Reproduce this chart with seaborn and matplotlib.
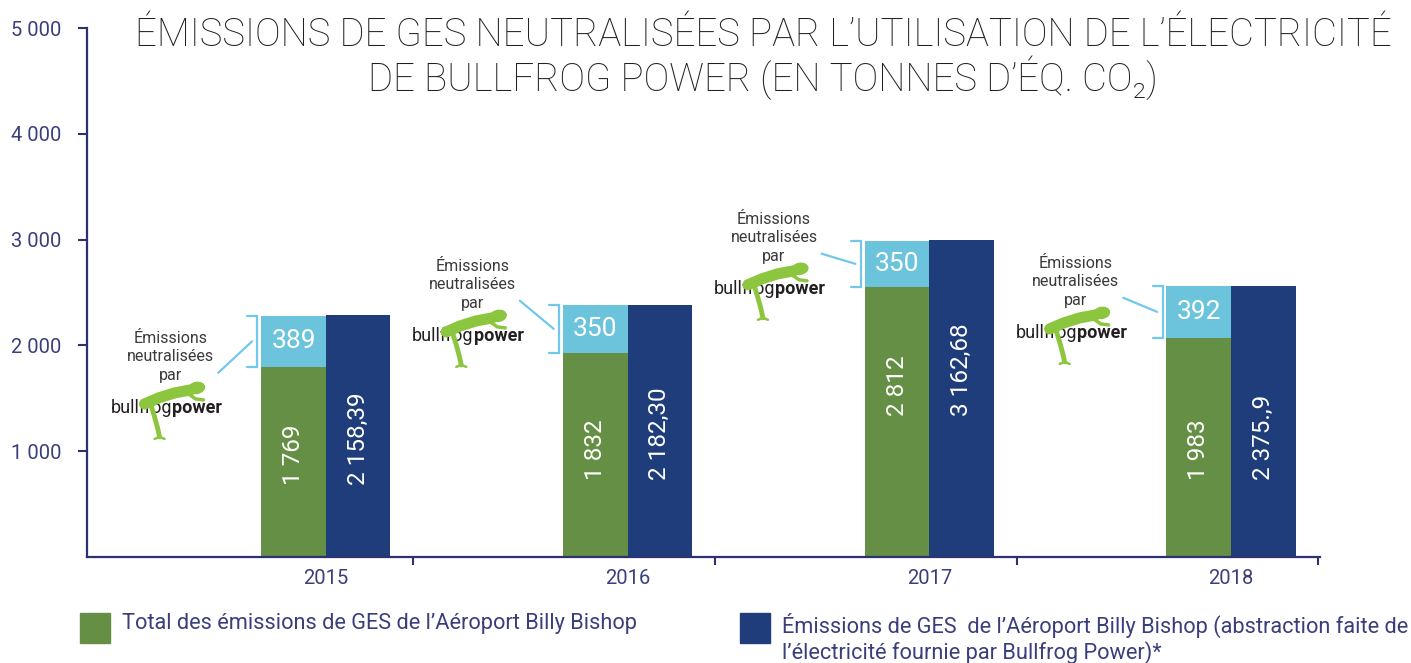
import numpy as np
import pandas as pd
import matplotlib
matplotlib.use("Agg")
import matplotlib.pyplot as plt
import seaborn as sns
from matplotlib.lines import Line2D
from matplotlib.patches import Rectangle, Ellipse
from matplotlib.transforms import IdentityTransform

# ---------------- data ----------------
years = ["2015", "2016", "2017", "2018"]
green_vals = [1797, 1929, 2553, 2071]      # bar heights as drawn
offset_vals = [482, 454, 435, 492]
dark_vals = [2288, 2383, 2998, 2563]
green_labels = ["1 769", "1 832", "2 812", "1 983"]
offset_labels = ["389", "350", "350", "392"]
dark_labels = ["2 158,39", "2 182,30", "3 162,68", "2 375.,9"]
label_base = [680, 730, 1335, 730]
note_y = [1891, 2572, 3017, 2600]
y_ticks = [1000, 2000, 3000, 4000, 5000]
y_tick_labels = ["1 000", "2 000", "3 000", "4 000", "5 000"]
series_names = ["Total des émissions de GES de l’Aéroport Billy Bishop",
                "Émissions de GES  de l’Aéroport Billy Bishop (abstraction faite de",
                "l’électricité fournie par Bullfrog Power)*"]
title_lines = ["ÉMISSIONS DE GES NEUTRALISÉES PAR L’UTILISATION DE L’ÉLECTRICITÉ",
               "DE BULLFROG POWER (EN TONNES D’ÉQ. CO₂)"]

GREEN = "#658f45"
LIGHT = "#6cc4dc"
DARK = "#1f3d7a"
NAVY = "#2e3170"
TICKC = "#3a3f7c"
BRACKET = "#72c7ec"
FROG = "#8cc63e"
NOTE = "#3a3a3a"

sns.set_theme(style="white")
plt.rcParams["font.family"] = ["Roboto", "DejaVu Sans"]

W, H = 1411, 663
fig = plt.figure(figsize=(W / 100, H / 100), dpi=100)
ax = fig.add_axes([87 / W, 1 - 557 / H, (1320 - 87) / W, (557 - 28) / H])

BW = 0.214
df = pd.DataFrame({
    "year": years * 2,
    "series": ["green"] * 4 + ["dark"] * 4,
    "value": green_vals + dark_vals,
})
sns.barplot(data=df, x="year", y="value", hue="series", order=years,
            hue_order=["green", "dark"], palette=[GREEN, DARK], width=2 * BW,
            gap=0, dodge=True, saturation=1, errorbar=None, legend=False,
            linewidth=0, ax=ax)
pos = np.arange(len(years))
ax.bar(pos - BW / 2, offset_vals, bottom=green_vals, width=BW, color=LIGHT,
       linewidth=0)

ax.set_xlim(-0.792, 3.295)
ax.set_ylim(0, 5000)
ax.set_xlabel("")
ax.set_ylabel("")
for s in ["top", "right"]:
    ax.spines[s].set_visible(False)
for s in ["left", "bottom"]:
    ax.spines[s].set_color(NAVY)
    ax.spines[s].set_linewidth(1.6)

ax.set_xticks(pos + 0.29, [""] * 4)
ax.set_xticks(pos, years, minor=True)
ax.tick_params(axis="x", which="major", length=6, width=1.5, color=NAVY,
               direction="out", bottom=True)
ax.tick_params(axis="x", which="minor", length=0, pad=9, labelsize=14.5,
               labelcolor=TICKC, bottom=True)
ax.set_yticks(y_ticks, y_tick_labels)
ax.tick_params(axis="y", length=6.5, width=1.5, color=NAVY, direction="out",
               pad=12, labelsize=14.5, labelcolor=TICKC, left=True)

# value labels
for j in range(len(years)):
    ax.text(j - BW / 2, green_vals[j] + offset_vals[j] / 2, offset_labels[j],
            ha="center", va="center", color="white", fontsize=19)
    ax.text(j - BW / 2, label_base[j], green_labels[j], rotation=90,
            ha="center", va="bottom", color="white", fontsize=17.5)
    ax.text(j + BW / 2, label_base[j], dark_labels[j], rotation=90,
            ha="center", va="bottom", color="white", fontsize=17.5)

# brackets, connectors, notes and logos
fig.canvas.draw()
for j in range(len(years)):
    gtop = green_vals[j]
    ltop = green_vals[j] + offset_vals[j]
    xv = j - BW - 0.013
    ax.plot([xv - 0.033, xv, xv, xv - 0.033], [ltop, ltop, gtop, gtop],
            color=BRACKET, lw=1.6, clip_on=False, solid_joinstyle="miter")
    ax.plot([j - 0.245, j - 0.357], [(gtop + ltop) / 2, note_y[j] - 150],
            color=BRACKET, lw=1.6, clip_on=False)
    xn = j - 0.515
    ax.text(xn, note_y[j], "Émissions\nneutralisées\npar", ha="center",
            va="center", linespacing=1.3, fontsize=11.5, color=NOTE, zorder=5)
    # frog (decorative), drawn in display pixels around the logo centre
    cx, cy = ax.transData.transform((xn, note_y[j]))
    cy -= 51
    tr = IdentityTransform()
    body = Line2D([cx - 26, cx - 12, cx + 4, cx + 20], [cy + 4, cy + 10, cy + 15, cy + 18],
                  color=FROG, lw=8, solid_capstyle="round", transform=tr, zorder=3)
    head = Ellipse((cx + 26, cy + 20), 16, 11, angle=10, color=FROG, transform=tr, zorder=3)
    arm = Line2D([cx + 18, cx + 25, cx + 33], [cy + 14, cy + 9, cy + 8],
                 color=FROG, lw=2.5, solid_capstyle="round", transform=tr, zorder=3)
    leg = Line2D([cx - 20, cx - 16, cx - 13, cx - 11], [cy + 4, cy - 9, cy - 20, cy - 29],
                 color=FROG, lw=3.5, solid_capstyle="round", transform=tr, zorder=3)
    foot = Line2D([cx - 16, cx - 11, cx - 6], [cy - 31, cy - 29, cy - 31],
                  color=FROG, lw=1.8, solid_capstyle="round", transform=tr, zorder=3)
    for a in (body, head, arm, leg, foot):
        a.set_clip_on(False)
        fig.add_artist(a)
    ax.annotate("bullfrog", xy=(xn, note_y[j]), xytext=(1, -51 * 0.72),
                textcoords="offset points", ha="right", va="center",
                fontsize=13, color="#231f20", zorder=6)
    ax.annotate("power", xy=(xn, note_y[j]), xytext=(1, -51 * 0.72),
                textcoords="offset points", ha="left", va="center",
                fontsize=13, fontweight="bold", color="#231f20", zorder=6)

# title
t1 = fig.text(763 / W, 1 - 35 / H, title_lines[0], ha="center", va="center",
              fontsize=22, fontweight="light", color="#231f20")
t2 = fig.text(763 / W, 1 - 78 / H, title_lines[1], ha="center", va="center",
              fontsize=22, fontweight="light", color="#231f20")

# legend
fig.patches.append(Rectangle((80 / W, 1 - 643 / H), 30 / W, 30 / H,
                             transform=fig.transFigure, color=GREEN))
fig.patches.append(Rectangle((740 / W, 1 - 643 / H), 30 / W, 30 / H,
                             transform=fig.transFigure, color=DARK))
l1 = fig.text(122 / W, 1 - 624 / H, series_names[0], ha="left", va="center",
              fontsize=13.5, color=TICKC)
l2 = fig.text(782 / W, 1 - 625 / H, series_names[1], ha="left", va="center",
              fontsize=13.5, color=TICKC)
l3 = fig.text(782 / W, 1 - 653 / H, series_names[2], ha="left", va="center",
              fontsize=13.5, color=TICKC)

# fit widths of the long text lines
r = fig.canvas.get_renderer()
def fit(t, target):
    w = t.get_window_extent(r).width
    t.set_fontsize(t.get_fontsize() * target / w)
fit(t1, 1257)
t2.set_fontsize(t1.get_fontsize())
fit(l1, 515)
l2.set_fontsize(l1.get_fontsize())
l3.set_fontsize(l1.get_fontsize())

fig.savefig("out.png", dpi=100)
